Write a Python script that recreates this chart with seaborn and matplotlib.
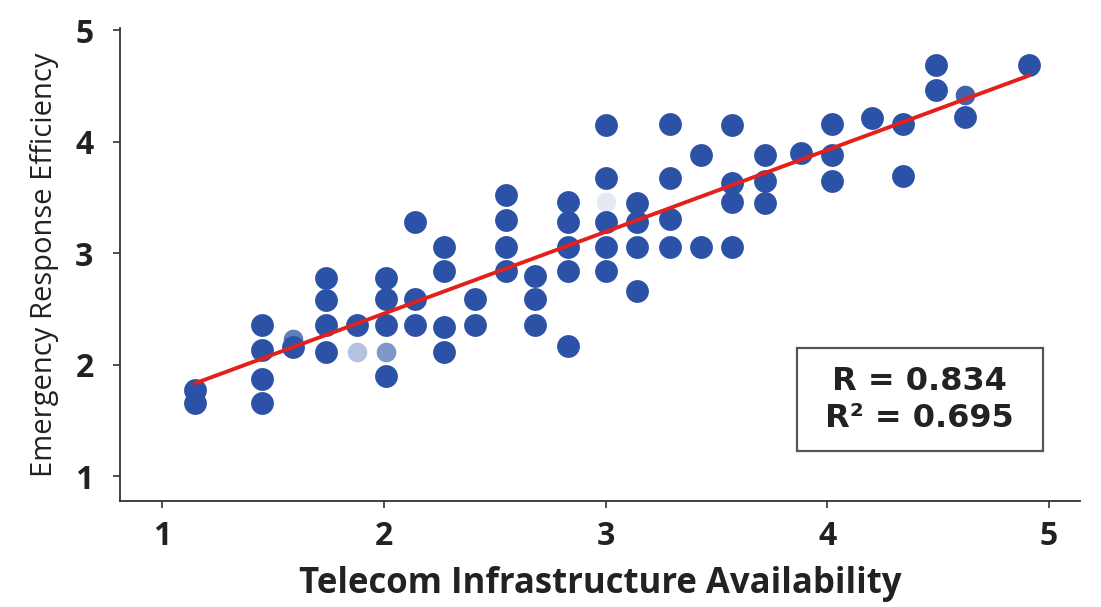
import numpy as np
import pandas as pd
import matplotlib
matplotlib.use("Agg")
import matplotlib.pyplot as plt
import seaborn as sns

# values
telecom = [1.15, 1.15,
           1.45, 1.45, 1.45, 1.45,
           1.59,
           1.74, 1.74, 1.74, 1.74,
           1.88,
           2.01, 2.01, 2.01, 2.01,
           2.14, 2.14, 2.14,
           2.27, 2.27, 2.27, 2.27,
           2.41, 2.41,
           2.55, 2.55, 2.55, 2.55,
           2.68, 2.68, 2.68,
           2.83, 2.83, 2.83, 2.83, 2.83,
           3.00, 3.00, 3.00, 3.00, 3.00,
           3.14, 3.14, 3.14, 3.14,
           3.29, 3.29, 3.29, 3.29,
           3.43, 3.43,
           3.57, 3.57, 3.57, 3.57,
           3.72, 3.72, 3.72,
           3.88,
           4.02, 4.02, 4.02,
           4.20,
           4.34, 4.34,
           4.49, 4.49,
           4.62,
           4.91]
response = [1.77, 1.66,
            2.36, 2.13, 1.87, 1.66,
            2.16,
            2.78, 2.58, 2.36, 2.11,
            2.36,
            2.78, 2.59, 2.36, 1.90,
            3.28, 2.59, 2.36,
            3.06, 2.84, 2.34, 2.11,
            2.59, 2.36,
            3.52, 3.30, 3.06, 2.84,
            2.80, 2.59, 2.36,
            3.46, 3.28, 3.06, 2.84, 2.17,
            4.15, 3.67, 3.28, 3.06, 2.84,
            3.45, 3.28, 3.06, 2.66,
            4.16, 3.67, 3.31, 3.06,
            3.88, 3.06,
            4.15, 3.63, 3.46, 3.06,
            3.88, 3.65, 3.45,
            3.90,
            4.16, 3.88, 3.65,
            4.21,
            4.16, 3.69,
            4.69, 4.46,
            4.22,
            4.69]

# a few washed-out dots in the picture
faint_telecom = [1.59, 1.88, 2.01, 3.00, 4.62]
faint_response = [2.23, 2.11, 2.11, 3.46, 4.42]
faint_alpha = [0.75, 0.35, 0.6, 0.12, 0.9]

r_value = 0.834
r2_value = 0.695

df = pd.DataFrame({"telecom": telecom, "response": response})

sns.set_style("ticks")
plt.rcParams['font.family'] = ['Open Sans', 'DejaVu Sans']

fig = plt.figure(figsize=(11.01, 6.07), dpi=100)
ax = fig.add_axes([0.109, 0.175, 0.872, 0.779])

dot_color = "#2b52a6"
sns.regplot(data=df, x="telecom", y="response", ax=ax, ci=None,
            scatter_kws={"s": 270, "color": dot_color, "alpha": 1, "linewidths": 0},
            line_kws={"color": "#e3201b", "linewidth": 2.8})
for fx, fy, fa in zip(faint_telecom, faint_response, faint_alpha):
    ax.scatter(fx, fy, s=200, color=dot_color, alpha=fa, linewidths=0)

ax.set_xlim(0.81, 5.14)
ax.set_ylim(0.78, 5.02)
ax.set_xticks([1, 2, 3, 4, 5])
ax.set_yticks([1, 2, 3, 4, 5])
ax.tick_params(labelsize=23, length=5, width=1.2, color="#333333", labelcolor="#222222")
ax.tick_params(axis="x", pad=9)
ax.tick_params(axis="y", pad=14)
for lab in ax.get_xticklabels() + ax.get_yticklabels():
    lab.set_fontweight("bold")
sns.despine(ax=ax)
for s in ["left", "bottom"]:
    ax.spines[s].set_linewidth(1.3)
    ax.spines[s].set_color("#333333")

ax.set_xlabel("Telecom Infrastructure Availability", fontsize=25, fontweight="bold",
              color="#222222", labelpad=9)
ax.set_ylabel("Emergency Response Efficiency", fontsize=21, color="#222222", labelpad=12)

ax.text(0.833, 0.214, f" R = {r_value:.3f} \n R² = {r2_value:.3f} ",
        transform=ax.transAxes, ha="center", va="center", fontsize=23,
        fontweight="bold", family=["DejaVu Sans"], color="#222222", linespacing=1.25,
        bbox=dict(boxstyle="square,pad=0.55", facecolor="white", edgecolor="#555555", linewidth=1.6))

plt.savefig("out.png", dpi=100)
